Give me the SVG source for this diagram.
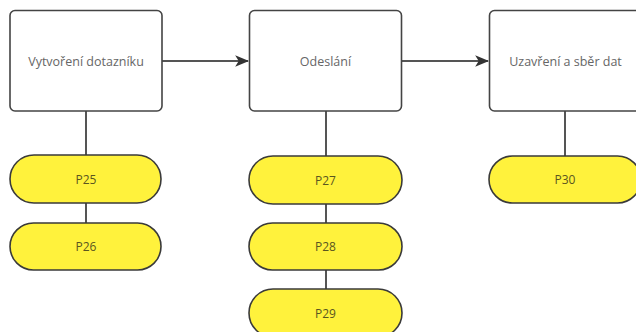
<svg xmlns="http://www.w3.org/2000/svg" width="636" height="332" viewBox="0 0 636 332">
<style>
.box{fill:#ffffff;stroke:#444444;stroke-width:1.6}
.pill{fill:#fff23c;stroke:#3a3a3a;stroke-width:1.6}
.lbl{font-family:"Open Sans","Noto Sans",sans-serif;font-size:12.5px;fill:#666666;text-anchor:middle;dominant-baseline:central}
.plbl{font-family:"Open Sans","Noto Sans",sans-serif;font-size:12px;fill:#5a5520;text-anchor:middle;dominant-baseline:central}
.conn{stroke:#555555;stroke-width:2;fill:none}
</style>
<defs>
<marker id="arr" viewBox="0 0 12 10" refX="11" refY="5" markerWidth="7" markerHeight="6" orient="auto" markerUnits="strokeWidth">
<path d="M0,0 L12,5 L0,10 L3,5 Z" fill="#333333"/>
</marker>
</defs>
<rect width="636" height="332" fill="#ffffff"/>
<g id="connectors">
<line class="conn" x1="162" y1="61" x2="248" y2="61" marker-end="url(#arr)"/>
<line class="conn" x1="402" y1="61" x2="488" y2="61" marker-end="url(#arr)"/>
<line class="conn" x1="86" y1="111" x2="86" y2="155"/>
<line class="conn" x1="86" y1="203" x2="86" y2="223"/>
<line class="conn" x1="326" y1="111" x2="326" y2="156"/>
<line class="conn" x1="326" y1="204" x2="326" y2="223"/>
<line class="conn" x1="326" y1="270" x2="326" y2="289"/>
<line class="conn" x1="565" y1="111" x2="565" y2="156"/>
</g>
<g id="n1">
<rect class="box" x="10" y="10.5" width="152" height="100.5" rx="5"/>
<text class="lbl" x="86" y="61">Vytvoření dotazníku</text>
</g>
<g id="n2">
<rect class="box" x="249.5" y="10.5" width="152" height="100.5" rx="5"/>
<text class="lbl" x="325.5" y="61">Odeslání</text>
</g>
<g id="n3">
<rect class="box" x="489.5" y="10.5" width="152" height="100.5" rx="5"/>
<text class="lbl" x="565.5" y="61">Uzavření a sběr dat</text>
</g>
<g id="p25">
<rect class="pill" x="10" y="155" width="151" height="48" rx="24"/>
<text class="plbl" x="86" y="179">P25</text>
</g>
<g id="p26">
<rect class="pill" x="10" y="223" width="151" height="47" rx="23.5"/>
<text class="plbl" x="86" y="246.5">P26</text>
</g>
<g id="p27">
<rect class="pill" x="249" y="156" width="153" height="48" rx="24"/>
<text class="plbl" x="325.5" y="180">P27</text>
</g>
<g id="p28">
<rect class="pill" x="249" y="223" width="153" height="47" rx="23.5"/>
<text class="plbl" x="325.5" y="246.5">P28</text>
</g>
<g id="p29">
<rect class="pill" x="249" y="289" width="153" height="48" rx="24"/>
<text class="plbl" x="325.5" y="313">P29</text>
</g>
<g id="p30">
<rect class="pill" x="489" y="156" width="152" height="47" rx="23.5"/>
<text class="plbl" x="565" y="179.5">P30</text>
</g>
</svg>
